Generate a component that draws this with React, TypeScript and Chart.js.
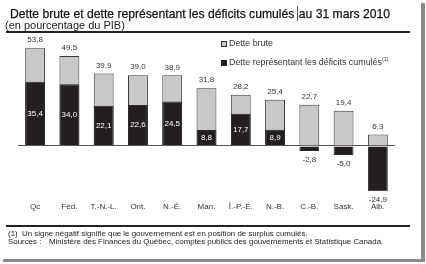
import React, { useEffect, useRef } from "react";
import { Chart, registerables } from "chart.js";

Chart.register(...registerables);

const categories = ["Qc", "Féd.", "T.-N.-L.", "Ont.", "N.-É.", "Man.", "Î.-P.-É.", "N.-B.", "C.-B.", "Sask.", "Alb."];
const detteBrute = [53.8, 49.5, 39.9, 39.0, 38.9, 31.8, 28.2, 25.4, 22.7, 19.4, 6.3];
const deficitsCumules = [35.4, 34.0, 22.1, 22.6, 24.5, 8.8, 17.7, 8.9, -2.8, -5.0, -24.9];
const seriesNames = ["Dette brute", "Dette représentant les déficits cumulés"];

const FONT = "'Liberation Sans', Arial, sans-serif";
const fmt = (v: number) => v.toFixed(1).replace(".", ",");

const labelPlugin = {
  id: "valueLabels",
  afterDatasetsDraw(chart: any) {
    const ctx = chart.ctx;
    ctx.save();
    ctx.font = `8px ${FONT}`;
    ctx.textAlign = "center";
    ctx.textBaseline = "middle";
    chart.data.datasets.forEach((ds: any, di: number) => {
      const meta = chart.getDatasetMeta(di);
      meta.data.forEach((el: any, i: number) => {
        const v = ds.data[i] as number;
        const { x, y, base } = el.getProps(["x", "y", "base"], true);
        if (ds.kind === "gross") {
          ctx.fillStyle = "#333";
          ctx.fillText(fmt(v), x, y - 8);
        } else if (v >= 0) {
          ctx.fillStyle = "#fff";
          ctx.fillText(fmt(v), x, (y + base) / 2);
        } else {
          ctx.fillStyle = "#333";
          ctx.fillText(fmt(v), x, y + 9);
        }
      });
    });
    ctx.restore();
  },
};

function BarChart() {
  const ref = useRef<HTMLCanvasElement | null>(null);
  useEffect(() => {
    if (!ref.current) return;
    const chart = new Chart(ref.current, {
      type: "bar",
      data: {
        labels: categories,
        datasets: [
          {
            label: seriesNames[0],
            kind: "gross",
            data: detteBrute,
            backgroundColor: "#c8c8c8",
            borderColor: "#3a3a3a",
            borderWidth: 1,
            order: 2,
            grouped: false,
            barPercentage: 0.58,
            categoryPercentage: 1,
          } as any,
          {
            label: seriesNames[1],
            kind: "deficit",
            data: deficitsCumules,
            backgroundColor: "#231f20",
            borderColor: "#2a2a2a",
            borderWidth: 1,
            order: 1,
            grouped: false,
            barPercentage: 0.58,
            categoryPercentage: 1,
          } as any,
        ],
      },
      options: {
        responsive: false,
        animation: false,
        layout: { padding: { left: 18, right: 31, top: 37, bottom: 41 } },
        plugins: { legend: { display: false }, tooltip: { enabled: false }, title: { display: false } },
        scales: {
          x: {
            grid: { display: false, drawTicks: false },
            border: { display: false },
            ticks: { color: "#333", font: { family: FONT, size: 8 }, padding: 11, autoSkip: false, maxRotation: 0 },
          },
          y: {
            min: -25,
            max: 60,
            ticks: { display: false, stepSize: 5 },
            border: { display: false },
            grid: {
              drawTicks: false,
              color: (c: any) => (c.tick && c.tick.value === 0 ? "#555" : "rgba(0,0,0,0)"),
              lineWidth: 1,
            },
          },
        },
      },
      plugins: [labelPlugin],
    });
    return () => chart.destroy();
  }, []);
  return <canvas ref={ref} width={426} height={264} style={{ position: "absolute", left: 0, top: 0 }} />;
}

export default function App() {
  const abs = (s: React.CSSProperties): React.CSSProperties => ({ position: "absolute", ...s });
  return (
    <div style={{ position: "fixed", left: 0, top: 0, width: 426, height: 264, background: "#fff", overflow: "hidden", fontFamily: FONT, color: "#222" }}>
      <BarChart />
      <div
        style={abs({
          left: 10,
          top: 5,
          fontSize: 13.5,
          whiteSpace: "nowrap",
          lineHeight: "17px",
          color: "#111",
          transform: "scaleX(0.9)",
          transformOrigin: "left center",
          WebkitTextStroke: "0.25px #111",
        })}
      >
        Dette brute et dette représentant les déficits cumulés
        <span style={{ borderLeft: "1px solid #444", marginLeft: 3, paddingLeft: 1 }}>au 31 mars 2010</span>
      </div>
      <div style={abs({ left: 5, top: 19, fontSize: 11, whiteSpace: "nowrap", lineHeight: "13px" })}>(en pourcentage du PIB)</div>
      <div style={abs({ left: 6, top: 31, width: 404, height: 2, background: "#222" })} />
      <div style={abs({ left: 221, top: 38, fontSize: 8.9, lineHeight: "10px", whiteSpace: "nowrap", color: "#333" })}>
        <span style={{ display: "inline-block", width: 4, height: 4, border: "1px solid #333", background: "#c8c8c8", marginRight: 2, verticalAlign: "middle" }} />
        {seriesNames[0]}
      </div>
      <div style={abs({ left: 221, top: 54, fontSize: 8.9, lineHeight: "10px", whiteSpace: "nowrap", color: "#333" })}>
        <span style={{ display: "inline-block", width: 4, height: 4, border: "1px solid #231f20", background: "#231f20", marginRight: 2, verticalAlign: "middle" }} />
        {seriesNames[1]}
        <sup style={{ fontSize: 5.5 }}>(1)</sup>
      </div>
      <div style={abs({ left: 6, top: 225, width: 404, height: 2, background: "#222" })} />
      <div style={abs({ left: 8, top: 230, fontSize: 7.9, lineHeight: "8px", whiteSpace: "nowrap" })}>
        (1)&nbsp; Un signe négatif signifie que le gouvernement est en position de surplus cumulés.
      </div>
      <div style={abs({ left: 8, top: 238, fontSize: 7.9, lineHeight: "8px", whiteSpace: "nowrap" })}>
        Sources :<span style={{ position: "absolute", left: 41 }}>Ministère des Finances du Québec, comptes publics des gouvernements et Statistique Canada.</span>
      </div>
      <div style={abs({ left: 421, top: 3, width: 4, height: 259, background: "#8a8a8a" })} />
      <div style={abs({ left: 3, top: 259, width: 422, height: 3, background: "#8a8a8a" })} />
    </div>
  );
}
